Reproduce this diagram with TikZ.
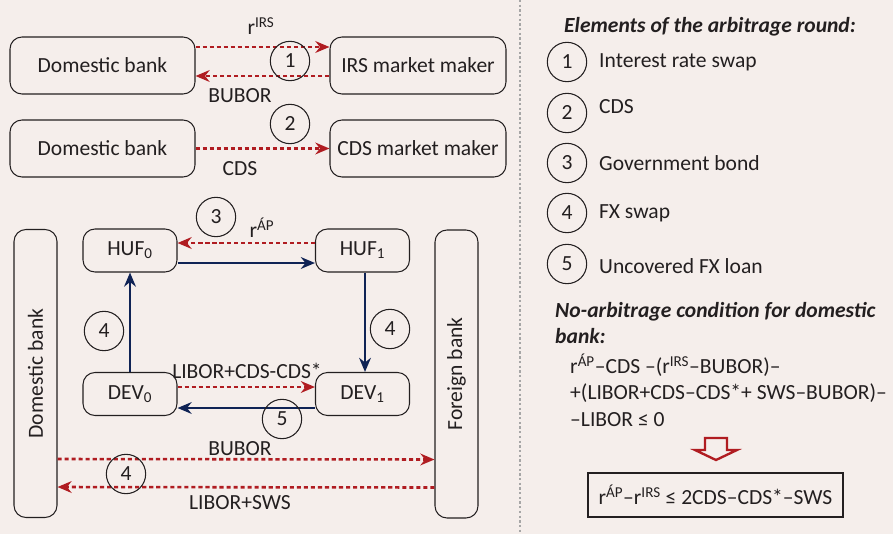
\documentclass[tikz,border=0pt]{standalone}
\usepackage{fontspec}
\setmainfont{Carlito}
\usetikzlibrary{calc}
\usetikzlibrary{positioning}
\usetikzlibrary{arrows.meta}

\definecolor{bgpink}{HTML}{F5EEEB}
\definecolor{arrred}{HTML}{B01C21}
\definecolor{arrblue}{HTML}{0F2355}
\definecolor{txtgray}{HTML}{231F20}

\begin{document}
\begin{tikzpicture}[%
  x=0.03cm, y=-0.03cm,
  font=\fontsize{18.4}{22}\selectfont,
  text=txtgray,
  box/.style={draw=txtgray, line width=0.9pt, rounded corners=0.36cm,
    minimum width=5.55cm, minimum height=1.71cm, inner sep=0pt},
  smallbox/.style={box, minimum width=2.82cm, minimum height=1.29cm},
  vbox/.style={box, rotate=90, minimum width=8.64cm, minimum height=1.29cm},
  num/.style={draw=txtgray, line width=0.9pt, circle, minimum size=1.18cm, inner sep=0pt},
  redarr/.style={arrred, line width=2.2pt, dash pattern=on 3.5pt off 2.5pt,
    -{Stealth[length=12pt,width=10pt]}},
  bluearr/.style={arrblue, line width=2.2pt, -{Stealth[length=12pt,width=10pt]}},
  lbl/.style={inner sep=0pt},
  item/.style={anchor=west, inner sep=0pt}
]

  \fill[bgpink] (0,0) rectangle (893,534);
  \useasboundingbox (0,0) rectangle (893,534);

  % top: IRS and CDS
  \node[box] (dom1) at (102.5,65.5) {Domestic bank};
  \node[box, minimum width=5.28cm] (irs) at (418,65.5) {IRS market maker};
  \node[box] (dom2) at (102.5,148.5) {Domestic bank};
  \node[box, minimum width=5.28cm] (cds) at (418,148.5) {CDS market maker};

  \draw[redarr] ([yshift=0.555cm]dom1.east) -- ([yshift=0.555cm]irs.west);
  \draw[redarr] ([yshift=-0.315cm]irs.west) -- ([yshift=-0.315cm]dom1.east);
  \draw[redarr] (dom2.east) -- (cds.west);

  \node[num] (c1) at (290,61) {1};
  \node[num] (c2) at (290,124) {2};
  \node[lbl] (rirs) at (261,26) {r\textsuperscript{IRS}};
  \node[lbl] (bub1) at (240,96) {BUBOR};
  \node[lbl] (cdsl) at (240,169) {CDS};

  % bottom: FX round
  \node[vbox] (domv) at (35.5,373.5) {Domestic bank};
  \node[vbox] (forv) at (456.5,374) {Foreign bank};

  \node[smallbox] (huf0) at (130,250.5) {HUF\textsubscript{0}};
  \node[smallbox] (huf1) at (362.5,250.5) {HUF\textsubscript{1}};
  \node[smallbox] (dev0) at (130,394) {DEV\textsubscript{0}};
  \node[smallbox] (dev1) at (362.5,394) {DEV\textsubscript{1}};

  \draw[redarr] ([yshift=0.225cm]huf1.west) -- ([yshift=0.225cm]huf0.east);
  \draw[bluearr] ([yshift=-0.375cm]huf0.east) -- ([yshift=-0.375cm]huf1.west);
  \draw[bluearr] ([xshift=0.075cm]huf1.south) -- ([xshift=0.075cm]dev1.north);
  \draw[bluearr] (dev0.north) -- (huf0.south);
  \draw[redarr] ([yshift=0.21cm]dev0.east) -- ([yshift=0.21cm]dev1.west);
  \draw[bluearr] ([yshift=-0.42cm]dev1.west) -- ([yshift=-0.42cm]dev0.east);
  \draw[redarr] ([yshift=-2.565cm]domv.south) -- ([yshift=-2.565cm]forv.north);
  \draw[redarr] ([yshift=-3.405cm]forv.north) -- ([yshift=-3.405cm]domv.south);

  \node[num] (c3) at (216,217) {3};
  \node[num] (c4a) at (104,331) {4};
  \node[num] (c4b) at (390,329) {4};
  \node[num] (c5) at (282,419) {5};
  \node[num] (c4c) at (126,474) {4};
  \node[lbl] (rap) at (262,228) {r\textsuperscript{ÁP}};
  \node[lbl] (lcds) at (247,371) {LIBOR+CDS-CDS*};
  \node[lbl] (bub2) at (240,449) {BUBOR};
  \node[lbl] (lsws) at (240,503) {LIBOR+SWS};

  % separator
  \draw[gray!70, line width=1.2pt, dash pattern=on 2pt off 2pt] (520,0) -- (520,534);

  % right: legend
  \node[lbl, font=\fontsize{18.4}{22}\selectfont\bfseries\itshape] (ttl) at (710,27)
    {Elements of the arbitrage round:};
  \foreach \n/\y/\t in {1/62/Interest rate swap, 2/113/CDS, 3/163/Government bond,
      4/213/FX swap, 5/264/Uncovered FX loan} {
    \node[num] (k\n) at (567,\y) {\n};
  }
  \node[item] (t1) at (599,62) {Interest rate swap};
  \node[item] (t2) at (599,107) {CDS};
  \node[item] (t3) at (599,163) {Government bond};
  \node[item] (t4) at (599,213) {FX swap};
  \node[item] (t5) at (599,266) {Uncovered FX loan};

  \node[lbl, anchor=north west, align=left,
    font=\fontsize{18.4}{22}\selectfont\bfseries\itshape] (natl) at (555,302)
    {No-arbitrage condition for domestic\\bank:};
  \node[item] (f1) at (570,365) {r\textsuperscript{ÁP}–CDS –(r\textsuperscript{IRS}–BUBOR)–};
  \node[item] (f2) at (570,393) {+(LIBOR+CDS–CDS*+ SWS–BUBOR)–};
  \node[item] (f3) at (570,420) {–LIBOR ≤ 0};

  \draw[arrred, line width=2pt, line join=miter]
    (705,438) -- (727,438) -- (727,450) -- (737,450) -- (716,460)
    -- (695,450) -- (705,450) -- cycle;

  \node[draw=txtgray, line width=0.9pt, minimum width=7.65cm, minimum height=1.32cm]
    (res) at (715.5,495) {r\textsuperscript{ÁP}–r\textsuperscript{IRS} ≤ 2CDS–CDS*–SWS};

\end{tikzpicture}
\end{document}
